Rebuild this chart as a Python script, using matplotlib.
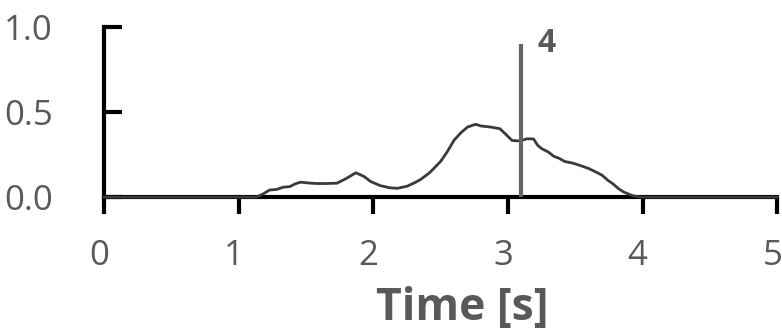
import matplotlib
matplotlib.use("Agg")
import matplotlib.pyplot as plt
from matplotlib.transforms import ScaledTranslation

plt.rcParams['font.family'] = ['Open Sans', 'DejaVu Sans']

# Signal trace (time in seconds, normalized amplitude)
time_s = [0.0, 1.0, 1.13, 1.18, 1.23, 1.28, 1.33, 1.38, 1.42, 1.46, 1.52, 1.58,
          1.65, 1.73, 1.80, 1.87, 1.93, 1.98, 2.05, 2.12, 2.18, 2.25, 2.30,
          2.35, 2.42, 2.50, 2.55, 2.60, 2.65, 2.70, 2.76, 2.80, 2.87, 2.94,
          2.98, 3.03, 3.09, 3.14, 3.19, 3.22, 3.25, 3.30, 3.34, 3.38, 3.42,
          3.48, 3.54, 3.60, 3.66, 3.70, 3.74, 3.78, 3.82, 3.86, 3.92, 3.98,
          4.2, 5.0]
signal = [0.0, 0.0, 0.0, 0.018, 0.042, 0.045, 0.058, 0.062, 0.078, 0.088, 0.083, 0.080,
          0.080, 0.082, 0.110, 0.143, 0.122, 0.092, 0.068, 0.055, 0.052, 0.064, 0.082,
          0.103, 0.145, 0.210, 0.268, 0.335, 0.378, 0.412, 0.428, 0.418, 0.412, 0.402,
          0.372, 0.333, 0.330, 0.343, 0.342, 0.305, 0.285, 0.265, 0.240, 0.228, 0.210,
          0.200, 0.185, 0.168, 0.145, 0.128, 0.100, 0.078, 0.050, 0.030, 0.010, 0.0,
          0.0, 0.0]

marker_time = 3.1
marker_label = "4"

x_ticks = [0, 1, 2, 3, 4, 5]
y_ticks = [0.0, 0.5, 1.0]
y_tick_labels = ["0.0", "0.5", "1.0"]

text_gray = "#595959"

fig = plt.figure(figsize=(7.82, 3.33), dpi=100)
ax = fig.add_axes([0.133, 0.408, 0.861, 0.511])

ax.plot(time_s, signal, color="#3a3a3a", lw=2.0, clip_on=False, zorder=3)
ax.vlines(marker_time, 0, 0.9, color="#666666", lw=3, zorder=4)
ax.text(marker_time + 0.12, 0.855, marker_label, fontsize=23, fontweight="bold",
        color=text_gray, ha="left", va="baseline")

ax.set_xlim(0, 5)
ax.set_ylim(0, 1)
ax.set_xticks(x_ticks)
ax.set_yticks(y_ticks)
ax.set_yticklabels(y_tick_labels)

for side in ("top", "right"):
    ax.spines[side].set_visible(False)
for side in ("left", "bottom"):
    ax.spines[side].set_linewidth(3)
    ax.spines[side].set_color("black")

ax.tick_params(axis="x", direction="out", length=12, width=3, color="black",
               labelsize=25, labelcolor=text_gray, pad=18)
ax.tick_params(axis="y", direction="in", length=13, width=3, color="black",
               labelsize=25, labelcolor=text_gray, pad=37)

# nudge x tick labels slightly left
shift = ScaledTranslation(-5 / 100, 0, fig.dpi_scale_trans)
for lbl in ax.get_xticklabels():
    lbl.set_transform(lbl.get_transform() + shift)

ax.set_xlabel("Time [s]", fontsize=32, fontweight="bold", color=text_gray)
ax.xaxis.set_label_coords(0.532, -0.52)

fig.savefig("out.png", dpi=100)
